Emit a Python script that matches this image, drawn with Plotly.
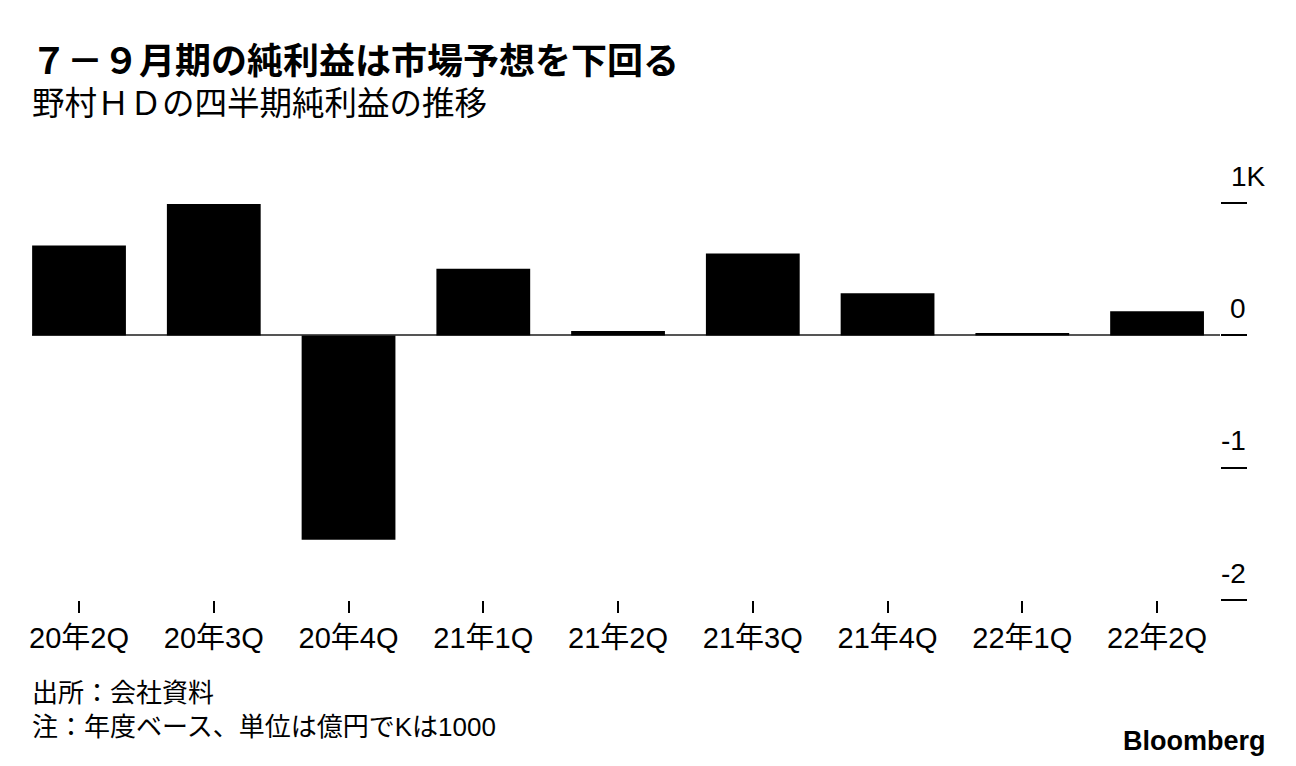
import plotly.graph_objects as go

categories = ["20年2Q", "20年3Q", "20年4Q", "21年1Q", "21年2Q", "21年3Q", "21年4Q", "22年1Q", "22年2Q"]
net_income = [680, 995, -1545, 505, 33, 620, 320, 18, 184]
ytick_vals = [1000, 0, -1000, -2000]
ytick_text = ["1K", "0", "-1", "-2"]

title = "７－９月期の純利益は市場予想を下回る"
subtitle = "野村ＨＤの四半期純利益の推移"
source = "出所：会社資料"
note = "注：年度ベース、単位は億円でKは1000"

FONT = "Liberation Sans, Noto Sans CJK JP, sans-serif"
W, H = 1296, 766
L, R, T, B = 32, 1220, 190, 600


def px(x):
    return (x - L) / (R - L)


def py(y):
    return (B - y) / (B - T)


fig = go.Figure(go.Bar(
    x=list(range(len(categories))), y=net_income,
    marker=dict(color="#000000", line=dict(width=0)),
    hoverinfo="skip",
))

annotations = [
    dict(text=f"<b>{title}</b>", x=px(29), y=py(62), xanchor="left", yanchor="middle",
         font=dict(size=36, family=FONT, color="#000")),
    dict(text=subtitle, x=px(30), y=py(104), xanchor="left", yanchor="middle",
         font=dict(size=32.5, family=FONT, color="#000")),
    dict(text=f"{source}<br>{note}", x=px(30), y=py(709.5), xanchor="left", yanchor="middle",
         align="left", font=dict(size=26, family=FONT, color="#000")),
    dict(text="<b>Bloomberg</b>", x=px(1268), y=py(741), xanchor="right", yanchor="middle",
         font=dict(size=27, family="Liberation Sans, Arial", color="#000")),
]
for v, t in zip(ytick_vals, ytick_text):
    annotations.append(dict(
        text=t, xref="paper", yref="y", x=px(1268 if t == "1K" else 1248), y=v, yshift=27,
        xanchor="right", yanchor="middle", showarrow=False,
        font=dict(size=28, family=FONT, color="#000")))
for a in annotations:
    a.setdefault("xref", "paper")
    a.setdefault("yref", "paper")
    a["showarrow"] = False

fig.update_layout(
    width=W, height=H,
    margin=dict(l=L, r=W - R, t=T, b=H - B, pad=0),
    paper_bgcolor="white", plot_bgcolor="white",
    showlegend=False, bargap=0.304,
    annotations=annotations,
    xaxis=dict(
        range=[-0.349, 8.467], tickmode="array",
        tickvals=list(range(len(categories))), ticktext=categories,
        ticks="outside", ticklen=12, tickwidth=2, tickcolor="#000",
        showgrid=False, showline=False, zeroline=False,
        tickfont=dict(size=29, family=FONT, color="#000"),
        fixedrange=True,
    ),
    yaxis=dict(
        range=[-2000, 1100], side="right", tickmode="array", tickvals=ytick_vals,
        ticks="outside", ticklen=26, tickwidth=2, tickcolor="#000",
        showticklabels=False, showgrid=False, showline=False,
        zeroline=True, zerolinecolor="#555", zerolinewidth=2,
        fixedrange=True,
    ),
)

fig.write_html("out.html", config={"displayModeBar": False},
               post_script="document.body.style.margin='0';document.body.style.overflow='hidden';")
